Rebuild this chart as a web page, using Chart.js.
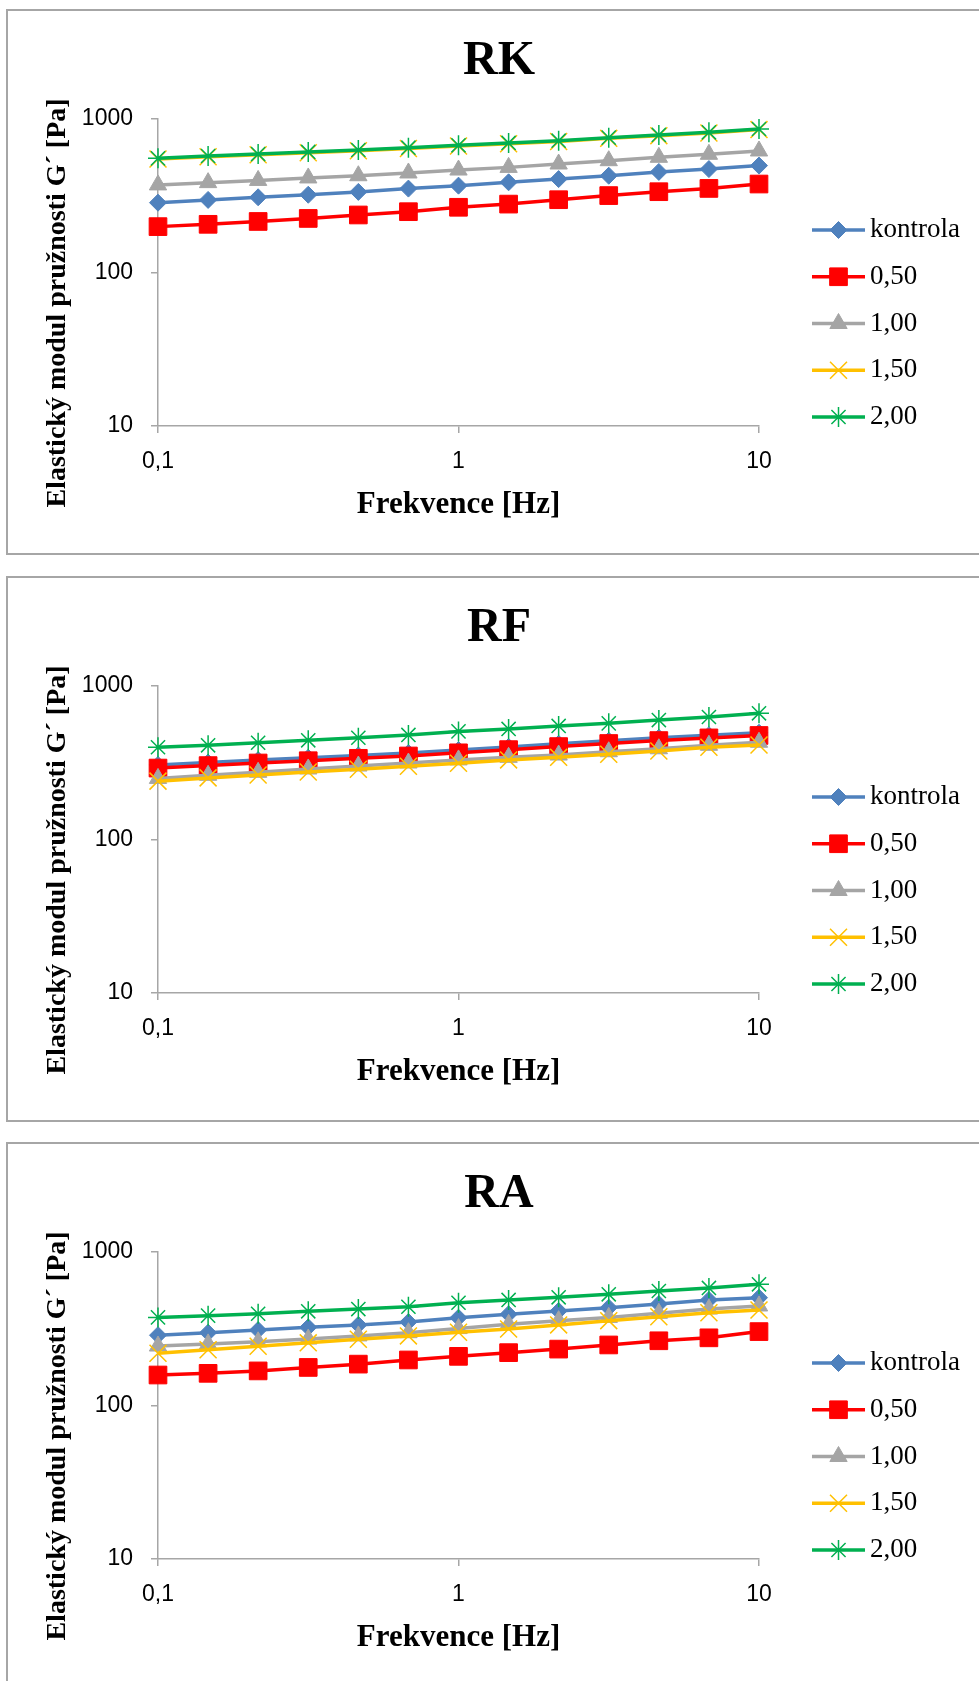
<!DOCTYPE html>
<html>
<head>
<meta charset="utf-8">
<title>Elastický modul pružnosti G´</title>
<script src="https://cdn.jsdelivr.net/npm/chart.js@4.4.1/dist/chart.umd.min.js"></script>
<style>
  html, body { margin: 0; padding: 0; background: #fff; overflow: hidden; width: 979px; height: 1681px; }
  .panel { position: absolute; left: 6px; width: 982px; height: 542px; border: 2px solid #a6a6a6; background: #fff; }
  .panel canvas { display: block; }
</style>
</head>
<body>
<div class="panel" style="top:9px"><canvas id="chartRK" width="982" height="542"></canvas></div>
<div class="panel" style="top:576px"><canvas id="chartRF" width="982" height="542"></canvas></div>
<div class="panel" style="top:1142px"><canvas id="chartRA" width="982" height="542"></canvas></div>
<script>
// Frequency sweep points [Hz]
const freqHz = [0.1, 0.1468, 0.2154, 0.3162, 0.4642, 0.6813, 1, 1.468, 2.154, 3.162, 4.642, 6.813, 10];

const seriesNames = ['kontrola', '0,50', '1,00', '1,50', '2,00'];

const xTickValues = [0.1, 1, 10];
const xTickLabels = ['0,1', '1', '10'];
const yTickValues = [10, 100, 1000];
const yTickLabels = ['10', '100', '1000'];

const xAxisTitle = 'Frekvence [Hz]';
const yAxisTitle = 'Elastický modul pružnosti G´ [Pa]';

// G' [Pa] — RK
const rkKontrola = [285, 297, 309, 321, 335, 352, 368, 387, 406, 427, 452, 472, 497];
const rk050 = [199, 206, 215, 225, 237, 249, 266, 279, 298, 317, 336, 353, 377];
const rk100 = [372, 385, 398, 413, 427, 445, 465, 484, 509, 535, 563, 589, 619];
const rk150 = [549, 568, 585, 603, 621, 643, 667, 690, 714, 748, 779, 811, 853];
const rk200 = [554, 574, 591, 610, 628, 650, 674, 698, 722, 756, 787, 819, 861];

// G' [Pa] — RF
const rfKontrola = [306, 317, 329, 341, 353, 366, 383, 401, 420, 440, 460, 478, 496];
const rf050 = [292, 303, 315, 326, 338, 350, 367, 385, 403, 422, 441, 459, 476];
const rf100 = [250, 262, 274, 288, 301, 315, 330, 343, 355, 373, 390, 411, 430];
const rf150 = [240, 252, 263, 275, 287, 300, 314, 330, 343, 359, 377, 399, 413];
const rf200 = [399, 411, 427, 443, 460, 480, 506, 525, 549, 571, 600, 628, 664];

// G' [Pa] — RA
const raKontrola = [287, 298, 310, 323, 335, 350, 373, 393, 413, 434, 458, 487, 504];
const ra050 = [158, 162, 168, 177, 186, 198, 209, 221, 233, 248, 264, 276, 303];
const ra100 = [244, 252, 260, 271, 284, 298, 317, 338, 357, 375, 399, 425, 445];
const ra150 = [219, 231, 243, 256, 270, 284, 300, 315, 335, 357, 379, 402, 419];
const ra200 = [375, 385, 396, 411, 425, 440, 467, 487, 507, 530, 557, 583, 616];

// Series appearance
const seriesColors = ['#4F81BD', '#FF0000', '#A5A5A5', '#FFC000', '#00B050'];
const seriesMarkers = [
  { pointStyle: 'rectRot', radius: 8.5, borderWidth: 1 },
  { pointStyle: 'rect', radius: 12.5, borderWidth: 1 },
  { pointStyle: 'triangle', radius: 10, borderWidth: 1 },
  { pointStyle: 'crossRot', radius: 12, borderWidth: 1.5 },
  { pointStyle: 'star', radius: 10, borderWidth: 1.5 }
];

Chart.defaults.font.family = '"Liberation Sans", Arial, sans-serif';

const axisGray = '#a6a6a6';
const serifFont = '"Liberation Serif", "Times New Roman", serif';

// Legend on the right: line + marker + label, like a spreadsheet chart
const sideLegend = {
  id: 'sideLegend',
  afterDraw(chart) {
    const { ctx, chartArea } = chart;
    const x0 = chartArea.right + 53;
    const x1 = chartArea.right + 106;
    const xm = (x0 + x1) / 2;
    ctx.save();
    chart.data.datasets.forEach((ds, i) => {
      const y = chartArea.top + 111 + i * 46.75;
      ctx.strokeStyle = ds.borderColor;
      ctx.lineWidth = ds.borderWidth;
      ctx.beginPath();
      ctx.moveTo(x0, y);
      ctx.lineTo(x1, y);
      ctx.stroke();
      ctx.fillStyle = ds.pointBackgroundColor;
      ctx.strokeStyle = ds.pointBorderColor;
      ctx.lineWidth = ds.pointBorderWidth;
      if (Chart.helpers && Chart.helpers.drawPoint) {
        Chart.helpers.drawPoint(ctx, {
          pointStyle: ds.pointStyle, radius: ds.pointRadius, rotation: 0, borderWidth: ds.pointBorderWidth
        }, xm, y);
      }
      ctx.fillStyle = '#000';
      ctx.font = '27px ' + serifFont;
      ctx.textAlign = 'left';
      ctx.textBaseline = 'middle';
      ctx.fillText(ds.label, x1 + 5, y);
    });
    ctx.restore();
  }
};

// Rotated y-axis caption
const yCaption = {
  id: 'yCaption',
  afterDraw(chart) {
    const { ctx, chartArea } = chart;
    ctx.save();
    ctx.translate(chartArea.left - 100, chartArea.top + 184);
    ctx.rotate(-Math.PI / 2);
    ctx.font = 'bold 28px ' + serifFont;
    ctx.fillStyle = '#000';
    ctx.textAlign = 'center';
    ctx.textBaseline = 'middle';
    ctx.fillText(yAxisTitle, 0, 0);
    ctx.restore();
  }
};

function makeChart(canvasId, titleText, series) {
  const datasets = series.map((vals, i) => ({
    label: seriesNames[i],
    data: freqHz.map((f, k) => ({ x: f, y: vals[k] })),
    xAxisID: 'x',
    yAxisID: 'y',
    borderColor: seriesColors[i],
    backgroundColor: seriesColors[i],
    pointBackgroundColor: seriesColors[i],
    pointBorderColor: seriesColors[i],
    pointStyle: seriesMarkers[i].pointStyle,
    pointRadius: seriesMarkers[i].radius,
    pointHoverRadius: seriesMarkers[i].radius,
    pointBorderWidth: seriesMarkers[i].borderWidth,
    borderWidth: 3.5,
    tension: 0,
    fill: false,
    clip: false,
    order: series.length - i
  }));

  return new Chart(document.getElementById(canvasId), {
    type: 'line',
    data: { datasets },
    options: {
      responsive: false,
      animation: false,
      devicePixelRatio: 1,
      events: [],
      layout: { padding: 0 },
      plugins: {
        legend: { display: false },
        tooltip: { enabled: false },
        title: {
          display: true,
          text: titleText,
          color: '#000',
          font: { family: serifFont, size: 48, weight: 'bold' },
          padding: { top: 22, bottom: 28.4 }
        }
      },
      scales: {
        x: {
          type: 'logarithmic',
          position: 'bottom',
          min: 0.1,
          max: 10,
          afterBuildTicks: s => { s.ticks = xTickValues.map(v => ({ value: v })); },
          afterFit: s => { s.height = 127; },
          ticks: {
            callback: (v, i) => xTickLabels[i],
            color: '#000',
            font: { size: 23 },
            padding: 15,
            autoSkip: false,
            maxRotation: 0
          },
          grid: { display: true, drawOnChartArea: false, drawTicks: true, tickLength: 7, color: axisGray, lineWidth: 1.5 },
          border: { display: true, color: axisGray, width: 1.5 },
          title: {
            display: true,
            text: xAxisTitle,
            color: '#000',
            font: { family: serifFont, size: 31, weight: 'bold' },
            padding: { top: 0, bottom: 29 }
          }
        },
        y: {
          type: 'logarithmic',
          position: 'left',
          min: 10,
          max: 1000,
          afterBuildTicks: s => { s.ticks = yTickValues.map(v => ({ value: v })); },
          afterFit: s => { s.width = 150; },
          ticks: {
            callback: (v, i) => yTickLabels[i],
            color: '#000',
            font: { size: 23 },
            padding: 18,
            autoSkip: false
          },
          grid: { display: true, drawOnChartArea: false, drawTicks: true, tickLength: 7, color: axisGray, lineWidth: 1.5 },
          border: { display: true, color: axisGray, width: 1.5 }
        },
        legendSpace: {
          type: 'linear',
          position: 'right',
          display: true,
          afterFit: s => { s.width = 231; },
          ticks: { display: false },
          grid: { display: false, drawTicks: false },
          border: { display: false }
        }
      }
    },
    plugins: [sideLegend, yCaption]
  });
}

makeChart('chartRK', 'RK', [rkKontrola, rk050, rk100, rk150, rk200]);
makeChart('chartRF', 'RF', [rfKontrola, rf050, rf100, rf150, rf200]);
makeChart('chartRA', 'RA', [raKontrola, ra050, ra100, ra150, ra200]);
</script>
</body>
</html>
